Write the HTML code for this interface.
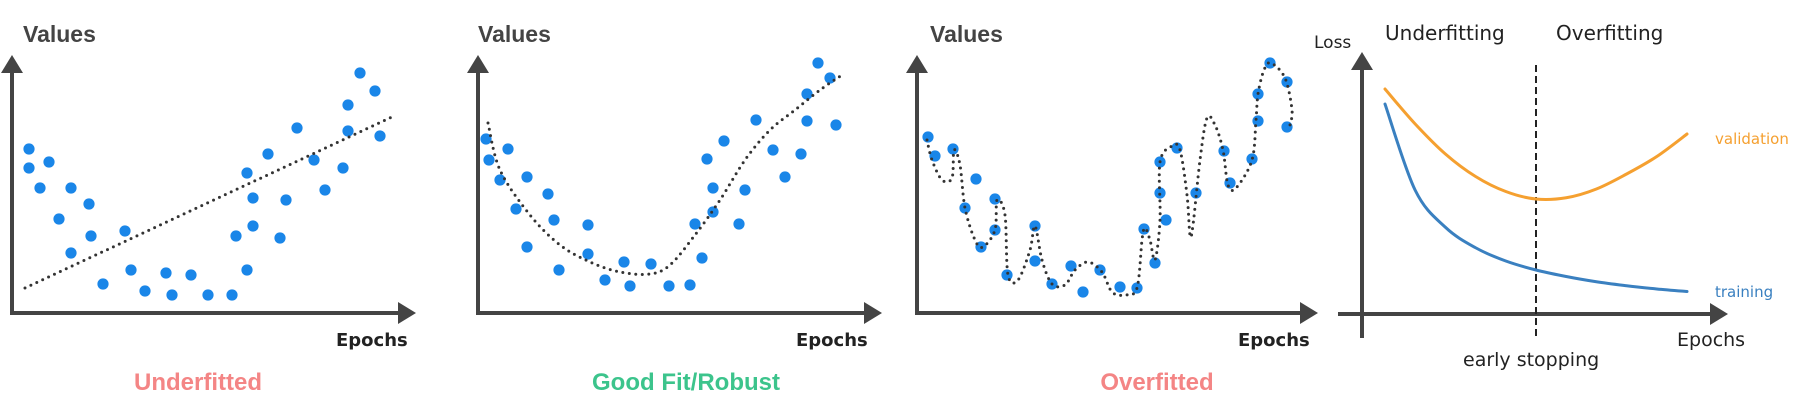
<!DOCTYPE html>
<html><head><meta charset="utf-8"><style>
html,body{margin:0;padding:0;background:#fff;}
svg{display:block;}
.lbl{font-family:"Liberation Sans",sans-serif;fill:#444;}
.cm{font-family:"DejaVu Sans","Liberation Sans",sans-serif;fill:#222;}
</style></head><body>
<svg id="chart" width="1809" height="413" viewBox="0 0 1809 413" xmlns="http://www.w3.org/2000/svg">
<g>
 <text class="lbl" x="23" y="42" font-size="23" font-weight="600">Values</text>
 <text class="cm" x="336" y="346" font-size="18" font-weight="bold">Epochs</text>
 <text x="198" y="390" font-size="24" font-weight="600" fill="#f48585" text-anchor="middle" font-family="Liberation Sans,sans-serif">Underfitted</text>
 <g id="p1"></g>
</g>
<g>
 <text class="lbl" x="478" y="42" font-size="23" font-weight="600">Values</text>
 <text class="cm" x="796" y="346" font-size="18" font-weight="bold">Epochs</text>
 <text x="686" y="390" font-size="24" font-weight="600" fill="#3cc48c" text-anchor="middle" font-family="Liberation Sans,sans-serif">Good Fit/Robust</text>
 <g id="p2"></g>
</g>
<g>
 <text class="lbl" x="930" y="42" font-size="23" font-weight="600">Values</text>
 <text class="cm" x="1238" y="346" font-size="18" font-weight="bold">Epochs</text>
 <text x="1157" y="390" font-size="24" font-weight="600" fill="#f48585" text-anchor="middle" font-family="Liberation Sans,sans-serif">Overfitted</text>
 <g id="p3"></g>
</g>
<g>
 <text class="cm" x="1314" y="48" font-size="17">Loss</text>
 <text class="cm" x="1385" y="40" font-size="20">Underfitting</text>
 <text class="cm" x="1556" y="40" font-size="20">Overfitting</text>
 <text class="cm" x="1677" y="346" font-size="19">Epochs</text>
 <text class="cm" x="1463" y="366" font-size="19">early stopping</text>
 <text class="cm" x="1715" y="144" font-size="15" style="fill:#f5a030">validation</text>
 <text class="cm" x="1715" y="297" font-size="15" style="fill:#3a80c0">training</text>
 <g id="p4"></g>
</g>
</svg>
<script>
// Panel 1 (underfitted) data
const p1X=[29,29,49,40,71,89,59,91,71,103,125,131,145,166,172,191,208,232,247,236,253,253,247,268,286,280,297,314,325,343,348,348,360,375,380];
const p1Y=[149,168,162,188,188,204,219,236,253,284,231,270,291,273,295,275,295,295,270,236,226,198,173,154,200,238,128,160,190,168,105,131,73,91,136];
const p1FitX=[25,392];
const p1FitY=[288,117];
// Panel 2 (good fit)
const p2X=[36,39,58,50,77,66,98,104,77,109,138,138,155,174,180,201,219,240,252,245,263,263,257,274,289,295,306,323,335,351,357,357,368,380,386];
const p2Y=[139,160,149,180,177,209,194,220,247,270,225,254,280,262,286,264,286,285,258,224,212,188,159,141,224,190,120,150,177,154,94,121,63,78,125];
const p2FitX=[38,50,80,110,140,170,200,220,245,270,295,320,345,370,392];
const p2FitY=[123,170,215,245,262,272,274,265,235,200,160,130,110,90,75];
// Panel 3 (overfitted)
const p3X=[38,45,63,86,75,105,105,91,117,145,145,162,181,193,210,230,247,254,265,270,270,276,287,306,334,340,362,368,368,380,397,397];
const p3Y=[137,156,149,179,208,199,230,247,275,226,261,284,266,292,270,287,288,229,263,193,162,220,148,193,151,183,159,121,94,63,82,127];
const p3FitX=[37,42,52,62,64,70,75,85,93,105,107,115,118,128,140,145,152,162,175,185,198,212,222,235,247,252,255,260,265,270,270,282,290,297,300,303,310,317,325,333,338,346,362,366,368,374,381,395,402,400];
const p3FitY=[140,160,180,178,150,165,208,240,247,230,200,215,275,280,250,226,260,284,285,270,262,272,292,295,288,240,228,240,260,220,162,146,150,195,235,225,160,118,125,150,185,188,160,120,94,70,63,78,110,125];
// Panel 4 (loss curves)
const epochs=[0,1,2,3,4,5,6,7,8,9,10];
const validationLoss=[0.90,0.76,0.64,0.55,0.49,0.46,0.465,0.50,0.56,0.63,0.72];
const trainingLoss=[0.84,0.495,0.347,0.265,0.212,0.176,0.150,0.129,0.113,0.100,0.090];
const earlyStop=5;

const NS="http://www.w3.org/2000/svg";
function mk(tag,attrs,parent){const e=document.createElementNS(NS,tag);for(const k in attrs)e.setAttribute(k,attrs[k]);parent.appendChild(e);return e;}
function smooth(pts){let d="M"+pts[0][0]+","+pts[0][1];for(let i=0;i<pts.length-1;i++){const p0=pts[i-1]||pts[i],p1=pts[i],p2=pts[i+1],p3=pts[i+2]||p2;
 const c1=[p1[0]+(p2[0]-p0[0])/6,p1[1]+(p2[1]-p0[1])/6],c2=[p2[0]-(p3[0]-p1[0])/6,p2[1]-(p3[1]-p1[1])/6];
 d+=" C"+c1[0].toFixed(1)+","+c1[1].toFixed(1)+" "+c2[0].toFixed(1)+","+c2[1].toFixed(1)+" "+p2[0]+","+p2[1];}return d;}
function axes(g,ax,ay,top,right,tail){
 const y=mk('line',{x1:ax,y1:top+16,x2:ax,y2:ay+(tail||2),stroke:'#444','stroke-width':4},g);
 
 
 const ya=mk('polygon',{points:(ax-11)+","+(top+18)+" "+ax+","+top+" "+(ax+11)+","+(top+18),fill:'#444'},g);
 
 
 const x=mk('line',{x1:ax-(tail?24:2),y1:ay,x2:right-16,y2:ay,stroke:'#444','stroke-width':4},g);
 
 
 const xa=mk('polygon',{points:(right-18)+","+(ay-11)+" "+right+","+ay+" "+(right-18)+","+(ay+11),fill:'#444'},g);
 
 
}
function scatter(id,off,X,Y,FX,FY,straight,right,ax){
 const g=document.getElementById(id);
 axes(g,off+ax,313,55,off+right);
 const pts=FX.map((v,i)=>[off+v,FY[i]]);
 const d=straight?"M"+pts[0]+" L"+pts[1]:smooth(pts);
 X.forEach((v,i)=>{const c=mk('circle',{cx:off+v,cy:Y[i],r:5.6,fill:'#1a86e8'},g);
  
  });
 const p=mk('path',{d:d,fill:'none',stroke:'#333','stroke-width':3,'stroke-linecap':'round','stroke-dasharray':'0 6.5'},g);
 
 
}
scatter('p1',0,p1X,p1Y,p1FitX,p1FitY,true,416,12);
scatter('p2',450,p2X,p2Y,p2FitX,p2FitY,false,432,28);
scatter('p3',890,p3X,p3Y,p3FitX,p3FitY,false,428,27);

const g4=document.getElementById('p4');
axes(g4,1362,314,52,1728,24);
const xS=e=>1385+e*30.2, yS=l=>314-l*250;
const dl=mk('line',{x1:xS(earlyStop),y1:65,x2:xS(earlyStop),y2:336,stroke:'#222','stroke-width':2,'stroke-dasharray':'7 4'},g4);


const vp=mk('path',{d:smooth(epochs.map((e,i)=>[xS(e),yS(validationLoss[i])])),fill:'none',stroke:'#f5a030','stroke-width':3,'stroke-linecap':'round'},g4);


const tp=mk('path',{d:smooth(epochs.map((e,i)=>[xS(e),yS(trainingLoss[i])])),fill:'none',stroke:'#3a80c0','stroke-width':3,'stroke-linecap':'round'},g4);


</script>
</body></html>
